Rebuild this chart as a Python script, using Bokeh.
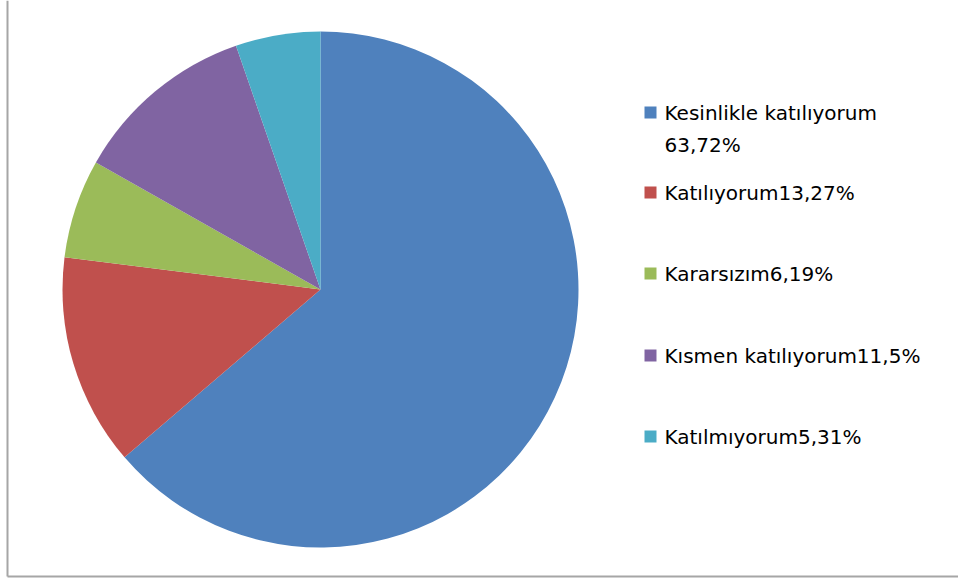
from bokeh.plotting import figure
from bokeh.models import Range1d
from bokeh.core.properties import value
from bokeh.embed import file_html
from bokeh.resources import INLINE
import numpy as np

categories = ["Kesinlikle  katılıyorum", "Katılıyorum", "Kararsızım", "Kısmen katılıyorum", "Katılmıyorum"]
percents = [63.72, 13.27, 6.19, 11.5, 5.31]
pct_labels = ["63,72%", "13,27%", "6,19%", "11,5%", "5,31%"]
colors = ["#4F81BD", "#C0504D", "#9BBB59", "#8064A2", "#4BACC6"]

W, H = 958, 578
p = figure(width=W, height=H, output_backend="svg", toolbar_location=None,
           x_range=Range1d(0, W), y_range=Range1d(0, H), min_border=0)
p.axis.visible = False
p.grid.visible = False
p.outline_line_color = None
p.background_fill_color = "white"
p.border_fill_color = "white"

# pie
cx, cy, r = 320, H - 289, 258
frac = np.array(percents) / sum(percents)
cum = np.concatenate([[0], np.cumsum(frac)])
starts = np.pi / 2 - cum[:-1] * 2 * np.pi
ends = np.pi / 2 - cum[1:] * 2 * np.pi
p.wedge(x=cx, y=cy, radius=r, start_angle=starts, end_angle=ends,
        direction="clock", fill_color=colors, line_color=None)

# frame lines (left and bottom)
p.segment(x0=[7, 7], y0=[H, H - 576], x1=[7, W], y1=[H - 576, H - 576],
          line_color="#A6A6A6", line_width=2)

# legend
font = value("DejaVu Sans")
fs = "20px"
row_y = [112, 192, 273, 355, 436]
sq_x = 650
tx = 664
for i, (c, pl, col) in enumerate(zip(categories, pct_labels, colors)):
    y = H - row_y[i]
    p.scatter(x=[sq_x], y=[y], marker="square", size=12, fill_color=col, line_color=None)
    if i == 0:
        p.text(x=[tx], y=[y], text=[c], text_font=font, text_font_size=fs,
               text_baseline="middle", text_color="#000000")
        p.text(x=[tx], y=[H - 144], text=[pl], text_font=font, text_font_size=fs,
               text_baseline="middle", text_color="#000000")
    else:
        p.text(x=[tx], y=[y], text=[c + pl], text_font=font, text_font_size=fs,
               text_baseline="middle", text_color="#000000")

open("out.html", "w").write(file_html(p, INLINE))
